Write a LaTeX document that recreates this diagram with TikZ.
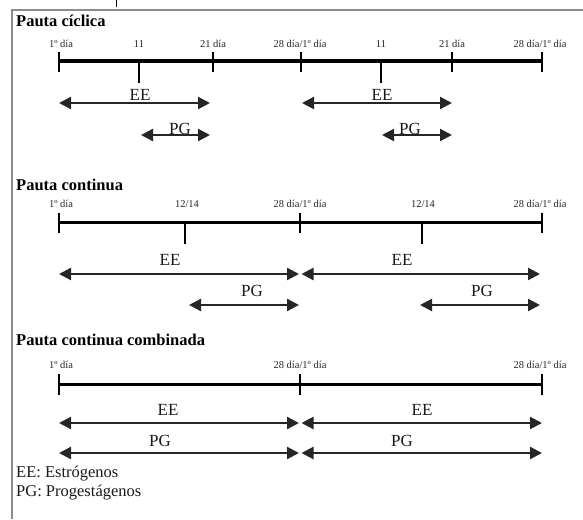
\documentclass[tikz,border=0pt]{standalone}
\usepackage{fontspec}
\setmainfont{Liberation Serif}
\usetikzlibrary{arrows.meta}
\begin{document}
\begin{tikzpicture}[x=1pt,y=-1pt,
  ttl/.style={anchor=base west,inner sep=0pt,font=\fontsize{16.5}{19}\selectfont\bfseries},
  daylbl/.style={anchor=base,inner sep=0pt,text=black!85,font=\fontsize{10.5}{12}\selectfont},
  axis/.style={line width=3pt},
  tickmark/.style={line width=1.3pt},
  span/.style={line width=2.2pt,black!85,{Triangle[length=12pt,width=12pt]}-{Triangle[length=12pt,width=12pt]}},
  spanlbl/.style={anchor=base,inner sep=0pt,text=black!90,font=\fontsize{17}{19}\selectfont},
  legend/.style={anchor=base west,inner sep=0pt,text=black!90,font=\fontsize{16.5}{19}\selectfont}]
  \useasboundingbox (0,0) rectangle (583,519);
  % frame
  \draw[black!45,line width=1.6pt] (12,519) -- (12,10) -- (583,10);
  \draw[line width=1pt] (116,0) -- (116,7);

  % Pauta ciclica
  \node[ttl] (t1) at (16,27) {Pauta cíclica};
  \coordinate (a1s) at (59,61);
  \coordinate (a1e) at (542,61);
  \draw[axis] (a1s) -- (a1e);
  \foreach \x in {59,213,301,452,542}
    \draw[tickmark] (\x,52) -- (\x,72);
  \foreach \x in {139,381}
    \draw[tickmark] (\x,61) -- (\x,83);
  \node[daylbl] (d11) at (61,48)  {1º día};
  \node[daylbl] (d12) at (139,48) {11};
  \node[daylbl] (d13) at (213,48) {21 día};
  \node[daylbl] (d14) at (300,48) {28 día/1º día};
  \node[daylbl] (d15) at (381,48) {11};
  \node[daylbl] (d16) at (452,48) {21 día};
  \node[daylbl] (d17) at (540,48) {28 día/1º día};
  \coordinate (ee1a) at (59,103);  \coordinate (ee1b) at (210,103);
  \coordinate (pg1a) at (141,135); \coordinate (pg1b) at (210,135);
  \coordinate (ee2a) at (302,103); \coordinate (ee2b) at (452,103);
  \coordinate (pg2a) at (382,135); \coordinate (pg2b) at (452,135);
  \draw[span] (ee1a) -- (ee1b);
  \draw[span] (pg1a) -- (pg1b);
  \draw[span] (ee2a) -- (ee2b);
  \draw[span] (pg2a) -- (pg2b);
  \node[spanlbl] (ee1) at (140,100) {EE};
  \node[spanlbl] (pg1) at (180,134) {PG};
  \node[spanlbl] (ee2) at (382,100) {EE};
  \node[spanlbl] (pg2) at (410,134) {PG};

  % Pauta continua
  \node[ttl] (t2) at (16,190) {Pauta continua};
  \coordinate (a2s) at (59,222);
  \coordinate (a2e) at (542,222);
  \draw[axis] (a2s) -- (a2e);
  \foreach \x in {59,300,542}
    \draw[tickmark] (\x,213) -- (\x,233);
  \foreach \x in {185,422}
    \draw[tickmark] (\x,222) -- (\x,244);
  \node[daylbl] (d21) at (61,207)  {1º día};
  \node[daylbl] (d22) at (187,207) {12/14};
  \node[daylbl] (d23) at (300,207) {28 día/1º día};
  \node[daylbl] (d24) at (423,207) {12/14};
  \node[daylbl] (d25) at (540,207) {28 día/1º día};
  \coordinate (ee3a) at (59,274);    \coordinate (ee3b) at (299,274);
  \coordinate (ee4a) at (301.5,274); \coordinate (ee4b) at (540,274);
  \coordinate (pg3a) at (189,305);   \coordinate (pg3b) at (299,305);
  \coordinate (pg4a) at (420,305);   \coordinate (pg4b) at (540,305);
  \draw[span] (ee3a) -- (ee3b);
  \draw[span] (ee4a) -- (ee4b);
  \draw[span] (pg3a) -- (pg3b);
  \draw[span] (pg4a) -- (pg4b);
  \node[spanlbl] (ee3) at (170,265) {EE};
  \node[spanlbl] (ee4) at (402,265) {EE};
  \node[spanlbl] (pg3) at (252,296) {PG};
  \node[spanlbl] (pg4) at (482,296) {PG};

  % Pauta continua combinada
  \node[ttl] (t3) at (16,345) {Pauta continua combinada};
  \coordinate (a3s) at (59,384);
  \coordinate (a3e) at (542,384);
  \draw[axis] (a3s) -- (a3e);
  \foreach \x in {59,300,542}
    \draw[tickmark] (\x,374) -- (\x,395);
  \node[daylbl] (d31) at (61,368)  {1º día};
  \node[daylbl] (d32) at (300,368) {28 día/1º día};
  \node[daylbl] (d33) at (540,368) {28 día/1º día};
  \coordinate (ee5a) at (59,423);    \coordinate (ee5b) at (299,423);
  \coordinate (ee6a) at (301.5,423); \coordinate (ee6b) at (542,423);
  \coordinate (pg5a) at (59,453);    \coordinate (pg5b) at (299,453);
  \coordinate (pg6a) at (301.5,453); \coordinate (pg6b) at (542,453);
  \draw[span] (ee5a) -- (ee5b);
  \draw[span] (ee6a) -- (ee6b);
  \draw[span] (pg5a) -- (pg5b);
  \draw[span] (pg6a) -- (pg6b);
  \node[spanlbl] (ee5) at (168,415) {EE};
  \node[spanlbl] (ee6) at (422,415) {EE};
  \node[spanlbl] (pg5) at (160,446) {PG};
  \node[spanlbl] (pg6) at (402,446) {PG};

  % leyenda
  \node[legend] (l1) at (16,477) {EE: Estrógenos};
  \node[legend] (l2) at (16,496) {PG: Progestágenos};
\end{tikzpicture}
\end{document}
